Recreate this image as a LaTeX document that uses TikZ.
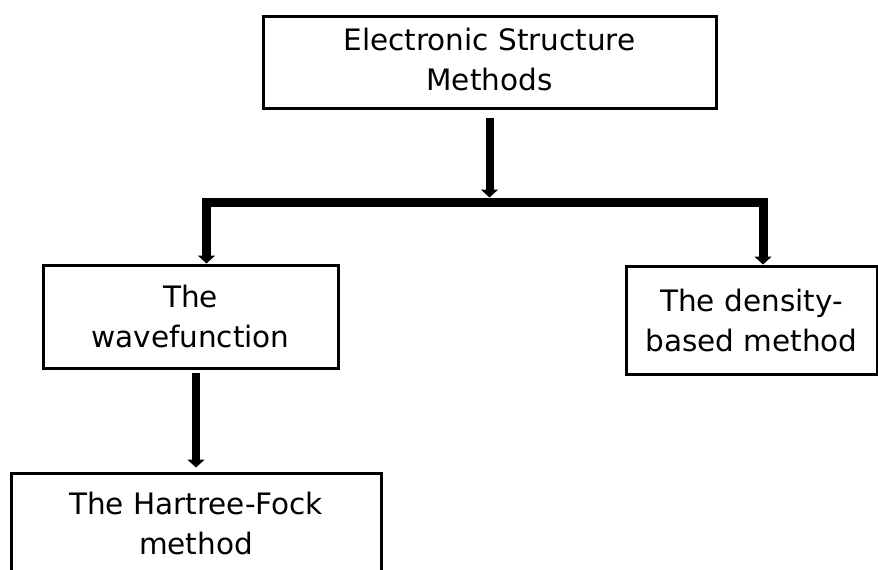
\documentclass[tikz,border=0pt]{standalone}
\usepackage{fontspec}
\setmainfont{DejaVu Sans}
\usetikzlibrary{arrows.meta}
\begin{document}
\begin{tikzpicture}[x=1pt,y=-1pt,
  box/.style={draw=black, line width=3pt, rectangle, inner sep=0pt,
    align=center, font=\fontsize{29.5}{40}\selectfont},
  tipstyle/.tip={Triangle[width=17pt,length=8pt]},
  arrowline/.style={line width=8pt, -tipstyle},
  branch/.style={line width=9pt, line join=miter, tipstyle-tipstyle}]
\useasboundingbox (0,0) rectangle (878,570);

% boxes
\node[box, minimum width=453pt, minimum height=92pt] (esm) at (489.5,62)
  {\raisebox{-3pt}{\begin{tabular}{@{}c@{}}Electronic Structure\\Methods\end{tabular}}};
\node[box, minimum width=295pt, minimum height=103pt] (wave) at (190.5,316.5)
  {The\\wavefunction};
\node[box, minimum width=251pt, minimum height=108pt] (dens) at (751.5,320)
  {The density-\\based method};
\node[box, minimum width=370pt, minimum height=100pt] (hf) at (196,523)
  {The Hartree-Fock\\method};

% branching points on the horizontal bar
\coordinate (hub) at (489.5,202);
\coordinate (lj) at (206.5,202);
\coordinate (rj) at (763,202);

% connectors
\draw[arrowline, shorten <=8pt] (esm.south) -- ([yshift=4.5pt]hub);
\draw[branch] (wave.north -| lj) -- (lj) -- (rj) -- (dens.north -| rj);
\draw[arrowline, shorten <=3pt, shorten >=4pt] (hf.north |- wave.south) -- (hf.north);
\end{tikzpicture}
\end{document}
